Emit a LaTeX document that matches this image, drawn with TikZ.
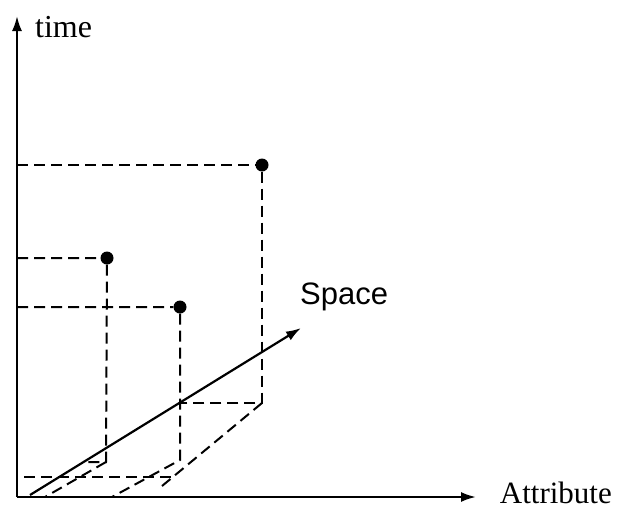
\documentclass[tikz,border=0pt]{standalone}
\usepackage{fontspec}
\setmainfont{Liberation Serif}
\newfontfamily\spacefont{Liberation Sans}
\usetikzlibrary{arrows.meta,positioning}
\begin{document}
\begin{tikzpicture}[x=1pt, y=-1pt, >={Latex[length=15pt,width=10pt]}]
    \tikzset{axis/.style={line width=2.2pt, ->},
        guide/.style={line width=2pt, dash pattern=on 11pt off 6pt},
        dot/.style={circle, fill, inner sep=0pt, minimum size=13pt},
        lbl/.style={font=\fontsize{31}{36}\selectfont, inner sep=0pt}}
    \useasboundingbox (0,0) rectangle (618,509);
    \coordinate (origin) at (17,497);
    \coordinate (timeEnd) at (17,16);
    \coordinate (attrEnd) at (476,497);
    \coordinate (spaceStart) at (30,495);
    \coordinate (spaceEnd) at (301,328);
    \draw[axis] (origin) -- (timeEnd);
    \draw[axis] (origin) -- (attrEnd);
    \draw[axis] (spaceStart) -- (spaceEnd);
    \node[lbl, font=\fontsize{32}{36}\selectfont, anchor=base west] (time) at (35,37) {time};
    \node[lbl, anchor=base east] (attr) at (612,503) {Attribute};
    \node[lbl, font=\spacefont\fontsize{31}{36}\selectfont, anchor=base west] (space) at (300,304) {Space};
    \node[dot] (p1) at (262,165) {};
    \node[dot] (p2) at (107,258) {};
    \node[dot] (p3) at (180,307) {};
    \coordinate (t1) at (17,165);
    \coordinate (t2) at (17,258);
    \coordinate (t3) at (17,307);
    \coordinate (f1) at (262,403);
    \coordinate (s1) at (181,403);
    \coordinate (a1) at (162,486);
    \coordinate (f2) at (106,462);
    \coordinate (s2) at (84,462);
    \coordinate (a2) at (45,497);
    \coordinate (f3) at (180,460);
    \coordinate (a3) at (112,497);
    \coordinate (s3) at (24,477);
    \coordinate (c3) at (172,477);
    \draw[guide] (t1) -- (p1) -- (f1) -- (s1);
    \draw[guide] (f1) -- (a1);
    \draw[guide] (t2) -- (p2) -- (f2) -- (s2);
    \draw[guide] (f2) -- (a2);
    \draw[guide] (t3) -- (p3) -- (f3) -- (a3);
    \draw[guide] (s3) -- (c3);
\end{tikzpicture}
\end{document}
